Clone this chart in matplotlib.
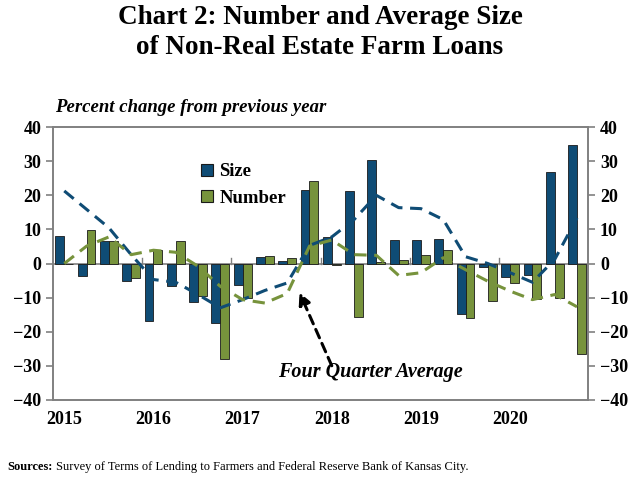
import numpy as np
import matplotlib
matplotlib.use("Agg")
import matplotlib.pyplot as plt
from matplotlib.lines import Line2D

# quarterly data, 2015Q1 - 2020Q4
years = ["2015", "2016", "2017", "2018", "2019", "2020"]
size = [8.0, -3.7, 6.6, -5.2, -17.0, -6.7, -11.4, -17.5,
        -6.3, 1.9, 0.8, 21.6, 7.8, 21.2, 30.5, 6.8,
        6.8, 7.1, -14.9, -1.1, -4.1, -3.4, 27.0, 34.9]
number = [0.0, 9.7, 6.6, -4.2, 4.1, 6.6, -9.6, -27.9,
          -10.0, 2.2, 1.7, 24.1, -0.3, -15.7, 0.4, 0.9,
          2.5, 4.0, -15.9, -11.1, -5.7, -10.3, -10.1, -26.6]
size_avg = [21.3, 15.9, 10.5, 2.6, -4.7, -5.5, -9.1, -13.0,
            -10.6, -7.9, -5.7, 5.3, 7.8, 12.9, 20.0, 16.4,
            16.1, 12.9, 2.0, 0.0, -2.7, -5.5, 1.2, 13.4]
number_avg = [0.0, 5.1, 7.8, 2.6, 3.9, 3.3, -0.8, -6.7,
              -10.6, -11.6, -8.8, 5.1, 6.9, 2.6, 2.4, -3.5,
              -2.7, 1.7, -1.8, -5.2, -8.1, -10.6, -9.1, -12.7]

blue = "#0f4c75"
green = "#77933c"
gray = "#808080"
serif = "Liberation Serif"

fig = plt.figure(figsize=(6.4, 4.8), dpi=100)
ax = fig.add_axes([0.083, 0.167, 0.836, 0.568])

x = np.arange(len(size))
w = 0.4
ax.bar(x - w / 2, size, w, color=blue, edgecolor="#1a1a1a", linewidth=0.6, zorder=3)
ax.bar(x + w / 2, number, w, color=green, edgecolor="#1a1a1a", linewidth=0.6, zorder=3)
ax.plot(x, size_avg, color=blue, lw=2.2, dashes=(4, 2.5), zorder=4)
ax.plot(x, number_avg, color=green, lw=2.2, dashes=(4, 2.5), zorder=4)
ax.axhline(0, color=gray, lw=1.2, zorder=2)

ax.set_xlim(-0.5, len(size) - 0.5)
ax.set_ylim(-40, 40)
ax.set_yticks(range(-40, 41, 10))
ax.set_xticks(np.arange(0, 24, 4))
ax.set_xticklabels(years)
for t in ax.get_xticklabels() + ax.get_yticklabels():
    t.set_fontfamily(serif)
    t.set_fontweight("bold")
    t.set_fontsize(13)
ax.tick_params(axis="x", length=0, pad=8)
ax.tick_params(axis="y", direction="out", length=5, color=gray, width=1.2)
# small ticks at year boundaries on the zero line
for b in range(4, 24, 4):
    ax.plot([b - 0.5, b - 0.5], [0, 1.5], color=gray, lw=1, zorder=2)

ax2 = ax.twinx()
ax2.set_ylim(-40, 40)
ax2.set_yticks(range(-40, 41, 10))
for t in ax2.get_yticklabels():
    t.set_fontfamily(serif)
    t.set_fontweight("bold")
    t.set_fontsize(13)
ax2.tick_params(axis="y", direction="out", length=5, color=gray, width=1.2)

for a in (ax, ax2):
    for s in a.spines.values():
        s.set_color(gray)
        s.set_linewidth(1.2)

handles = [Line2D([], [], ls="none", marker="s", markersize=8, markerfacecolor=c,
                  markeredgecolor="#1a1a1a", markeredgewidth=0.8) for c in (blue, green)]
leg = ax.legend(handles, ["Size", "Number"], loc="upper left", bbox_to_anchor=(0.26, 0.902),
                frameon=False, borderpad=0, handlelength=0.55, handletextpad=0.4,
                labelspacing=0.5,
                prop={"family": serif, "weight": "bold", "size": 13.5})

ax.annotate("", xy=(10.55, -8.5), xytext=(12.0, -30),
            arrowprops=dict(arrowstyle="-|>,head_width=0.35,head_length=0.7",
                            color="black", lw=2.2, linestyle=(0, (3, 2)),
                            shrinkA=0, shrinkB=0), zorder=5)
ax.text(13.75, -31.8, "Four Quarter Average", ha="center", va="center",
        fontfamily=serif, fontstyle="italic", fontweight="bold", fontsize=14.5)

fig.text(0.5, 0.963, "Chart 2: Number and Average Size", ha="center", va="center",
         fontfamily=serif, fontweight="bold", fontsize=19.5)
fig.text(0.5, 0.9, "of Non-Real Estate Farm Loans", ha="center", va="center",
         fontfamily=serif, fontweight="bold", fontsize=19.5)
fig.text(0.086, 0.775, "Percent change from previous year", ha="left", va="center",
         fontfamily=serif, fontstyle="italic", fontweight="bold", fontsize=13.5)

src = fig.text(0.012, 0.027, "Sources:", ha="left", va="center",
               fontfamily=serif, fontweight="bold", fontsize=9)
fig.canvas.draw()
bb = src.get_window_extent()
fig.text(bb.x1 / fig.bbox.width + 0.004, 0.027,
         "Survey of Terms of Lending to Farmers and Federal Reserve Bank of Kansas City.",
         ha="left", va="center", fontfamily=serif, fontsize=9)

fig.savefig("out.png", dpi=100)
